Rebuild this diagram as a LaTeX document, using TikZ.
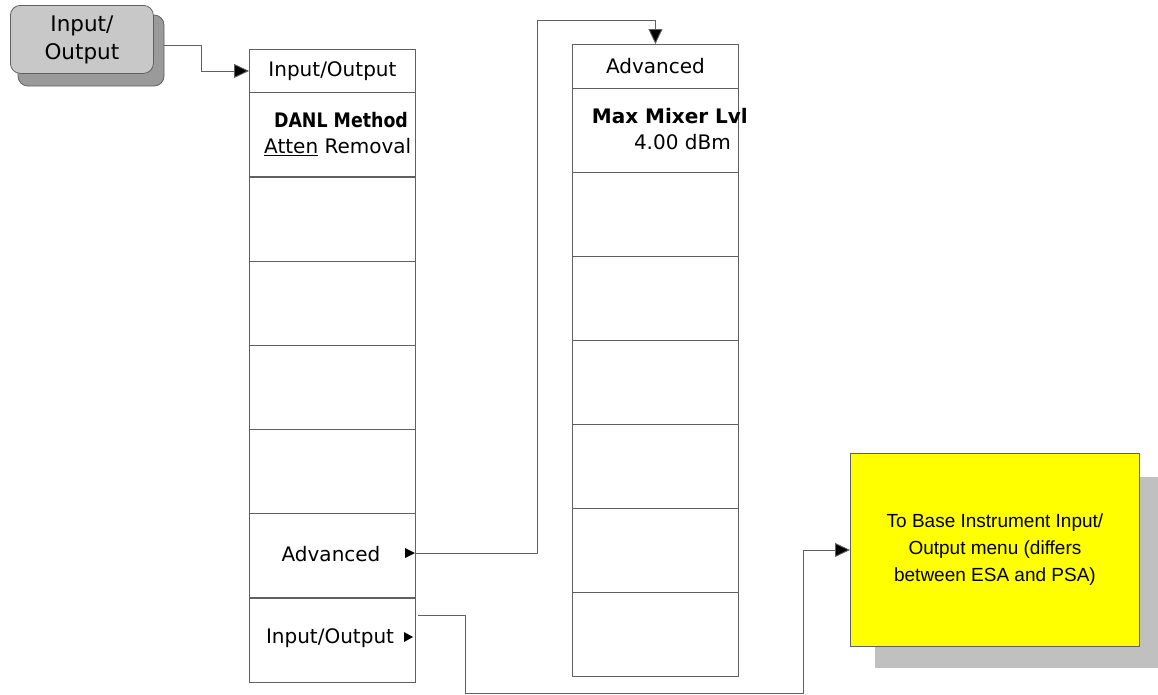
\documentclass[tikz,border=0pt]{standalone}
\usepackage{fontspec}
\setmainfont{DejaVu Sans}
\newfontfamily\arialfont{Liberation Sans}
\usetikzlibrary{arrows.meta}
\definecolor{linegray}{HTML}{606060}
\definecolor{keygray}{HTML}{C8C8C8}
\definecolor{keyshadow}{HTML}{9A9A9A}
\definecolor{boxshadow}{HTML}{C0C0C0}
\definecolor{pureyellow}{HTML}{FFFF00}
\tikzset{
  cell/.style={draw=linegray, line width=0.9pt, fill=white, anchor=north west, inner sep=0pt, minimum width=166pt},
  conn/.style={draw=linegray, line width=0.9pt},
  tipconn/.style={conn, -{Triangle[length=15pt,width=14pt,fill=black]}},
  lbl/.style={font=\fontsize{20}{22}\selectfont, inner sep=0pt},
  blbl/.style={font=\fontsize{20}{22}\selectfont\bfseries, inner sep=0pt},
  smalltri/.style={fill=black, draw=none}
}
\begin{document}
\begin{tikzpicture}[x=1pt,y=-1pt]
\useasboundingbox (0,0) rectangle (1158,694);
% key
\fill[keyshadow, rounded corners=10pt] (18,15) rectangle (164,86);
\draw[linegray, line width=0.8pt, rounded corners=10pt] (18,15) rectangle (164,86);
\node[draw=linegray, line width=0.8pt, fill=keygray, rounded corners=10pt, minimum width=143pt, minimum height=68pt, inner sep=0pt, anchor=north west, align=center, font=\fontsize{21.5}{28}\selectfont] (key) at (10,5) {Input/\\Output};
\coordinate (kout) at (164,45);
% left column
\node[cell, minimum height=43pt] (l0) at (249,49) {};
\node[lbl] (l0t) at (l0.center) {Input/Output};
\foreach \i/\y in {1/92,2/177,3/261,4/345,5/429,6/513,7/598}{
  \node[cell, minimum height=84.3pt] (l\i) at (249,\y) {};
}
\node[blbl] (danl) at (341,120) {\scalebox{0.87}[1]{DANL Method}};
\node[lbl, anchor=west] (atten) at (264,147) {\underline{Atten}\ Removal};
\node[lbl] (adv) at (331,554) {Advanced};
\fill[smalltri] (405,548) -- (415,553) -- (405,558) -- cycle;
\coordinate (advout) at (415,553);
\node[lbl] (io) at (330,638) {Input/Output};
\fill[smalltri] (404,632) -- (413,637) -- (404,642) -- cycle;
\coordinate (ioout) at (418,615);
% right column
\node[cell, minimum height=44pt] (r0) at (572,44) {};
\node[lbl] (r0t) at (r0.center) {Advanced};
\foreach \i/\y in {1/88,2/172,3/256,4/340,5/424,6/508,7/592}{
  \node[cell, minimum height=84pt] (r\i) at (572,\y) {};
}
\node[blbl, anchor=east] (mml) at (748,116) {Max Mixer Lvl};
\node[lbl, anchor=east] (dbm) at (731,142) {4.00 dBm};
% yellow box
\fill[boxshadow] (875,477) rectangle (1158,668);
\node[draw=linegray, line width=0.9pt, fill=pureyellow, anchor=north west, minimum width=289pt, minimum height=193pt, inner sep=0pt, align=center, font=\arialfont\fontsize{19}{27}\selectfont] (yb) at (850,453) {To Base Instrument Input/\\Output menu (differs\\between ESA and PSA)};
% connectors
\draw[tipconn] (kout) -- (201,45) |- (l0.west);
\draw[tipconn] (advout) -- (537,553) |- (r0.north |- 0,20) -- (r0.north);
\draw[tipconn] (ioout) -- (465,615) |- (803,693) |- (yb.west);
\end{tikzpicture}
\end{document}
